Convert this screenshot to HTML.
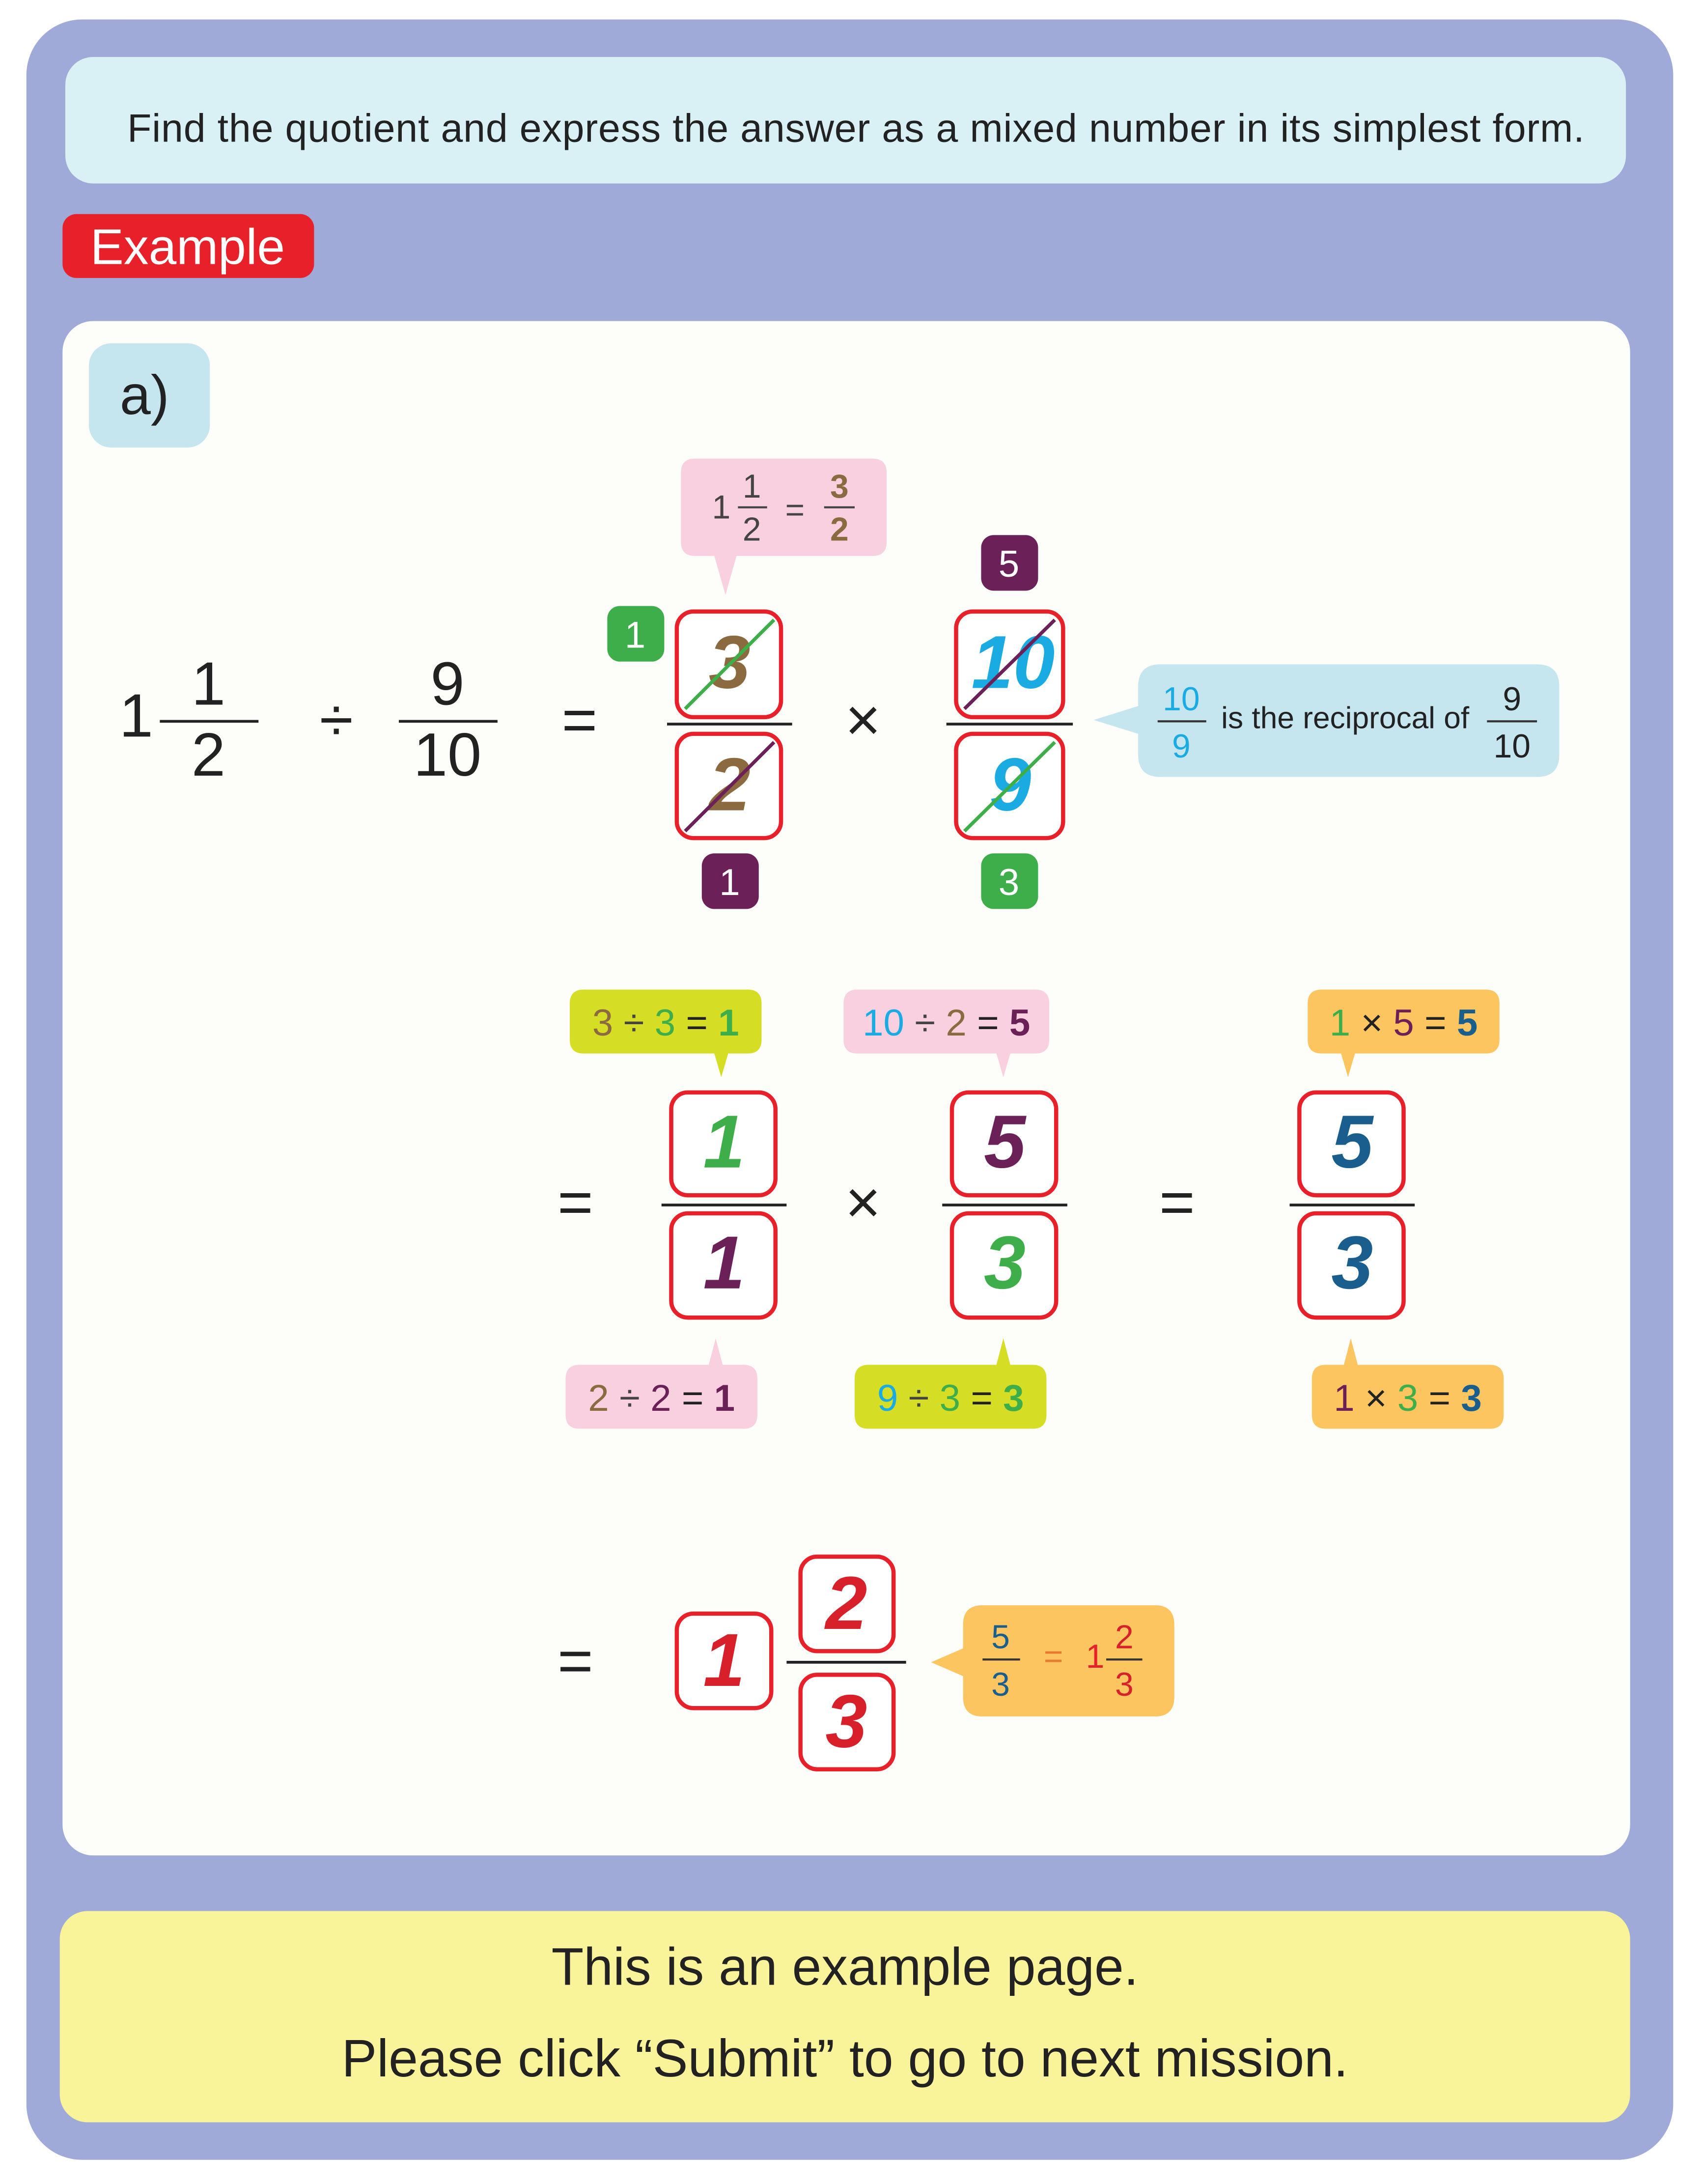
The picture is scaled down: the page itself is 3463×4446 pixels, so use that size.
<!DOCTYPE html>
<html><head><meta charset="utf-8"><style>
html,body{margin:0;padding:0;background:#fff;}
svg{display:block;}
text{font-family:"Liberation Sans",sans-serif;}
.n{font-size:44px;fill:#222;text-anchor:middle;}
.b{font-size:54px;font-style:italic;font-weight:bold;text-anchor:middle;}
.c{font-size:27px;text-anchor:middle;}
.s{font-size:24px;text-anchor:middle;}
.box{fill:#fff;stroke:#E8202A;stroke-width:3;}
</style></head><body>
<svg width="3463" height="4446" viewBox="0 0 1224 1571.4" preserveAspectRatio="none" xmlns="http://www.w3.org/2000/svg">
<rect x="0" y="0" width="1224" height="1572" fill="#fff"/>
<rect x="19" y="14" width="1185" height="1540" rx="40" fill="#9FAAD8"/>
<rect x="47" y="41" width="1123" height="91" rx="20" fill="#D9F0F4"/>
<text x="616" y="102" font-size="28.5" letter-spacing="0.3" text-anchor="middle" fill="#222">Find the quotient and express the answer as a mixed number  in its simplest form.</text>
<rect x="45" y="154" width="181" height="46" rx="10" fill="#E8202A"/>
<text x="135" y="190" font-size="36" text-anchor="middle" fill="#fff">Example</text>
<rect x="45" y="231" width="1128" height="1104" rx="22" fill="#FDFDF9"/>
<rect x="64" y="247" width="87" height="75" rx="16" fill="#C5E6EE"/>
<text x="104" y="298" font-size="40" text-anchor="middle" fill="#222">a)</text>

<text x="98" y="530" class="n">1</text>
<text x="150" y="507" class="n">1</text>
<line x1="115" y1="519" x2="186" y2="519" stroke="#222" stroke-width="2"/>
<text x="150" y="558" class="n">2</text>
<text x="242" y="533" class="n">÷</text>
<text x="322" y="507" class="n">9</text>
<line x1="287" y1="519" x2="358" y2="519" stroke="#222" stroke-width="2"/>
<text x="322" y="558" class="n">10</text>
<text x="417" y="533" class="n">=</text>

<path d="M500 330 H628 Q638 330 638 340 V390 Q638 400 628 400 H530 L522 428 L514 400 H500 Q490 400 490 390 V340 Q490 330 500 330Z" fill="#F9D0E0"/>
<text x="519" y="373" class="s" fill="#444">1</text>
<text x="541" y="358" class="s" fill="#444">1</text>
<line x1="531" y1="365" x2="552" y2="365" stroke="#444" stroke-width="1.5"/>
<text x="541" y="389" class="s" fill="#444">2</text>
<text x="572" y="375" class="s" fill="#444">=</text>
<text x="604" y="358" class="s" fill="#8B6A3F" font-weight="bold">3</text>
<line x1="593" y1="365" x2="615" y2="365" stroke="#444" stroke-width="1.5"/>
<text x="604" y="389" class="s" fill="#8B6A3F" font-weight="bold">2</text>

<rect x="437" y="436" width="41" height="40" rx="9" fill="#3DAE49"/>
<text x="457" y="466" class="c" fill="#fff">1</text>
<rect x="487" y="440" width="75" height="76" rx="12" class="box"/>
<text x="525" y="495" class="b" fill="#8B6A3F">3</text>
<line x1="493" y1="510" x2="557" y2="446" stroke="#3DAE49" stroke-width="2.5"/>
<line x1="480" y1="521" x2="570" y2="521" stroke="#222" stroke-width="2"/>
<rect x="487" y="528" width="75" height="75" rx="12" class="box"/>
<text x="525" y="583" class="b" fill="#8B6A3F">2</text>
<line x1="493" y1="598" x2="557" y2="534" stroke="#6C2058" stroke-width="2.5"/>
<rect x="505" y="614" width="41" height="40" rx="9" fill="#6C2058"/>
<text x="525" y="644" class="c" fill="#fff">1</text>

<text x="621" y="533" class="n">×</text>

<rect x="706" y="385" width="41" height="40" rx="9" fill="#6C2058"/>
<text x="726" y="415" class="c" fill="#fff">5</text>
<rect x="688" y="440" width="77" height="76" rx="12" class="box"/>
<text x="729" y="495" class="b" fill="#1AABE3">10</text>
<line x1="694" y1="510" x2="759" y2="446" stroke="#6C2058" stroke-width="2.5"/>
<line x1="681" y1="521" x2="772" y2="521" stroke="#222" stroke-width="2"/>
<rect x="688" y="528" width="77" height="75" rx="12" class="box"/>
<text x="727" y="583" class="b" fill="#1AABE3">9</text>
<line x1="694" y1="598" x2="759" y2="534" stroke="#3DAE49" stroke-width="2.5"/>
<rect x="706" y="614" width="41" height="40" rx="9" fill="#3DAE49"/>
<text x="726" y="644" class="c" fill="#fff">3</text>

<path d="M835 478 H1106 Q1122 478 1122 494 V543 Q1122 559 1106 559 H835 Q819 559 819 543 V528 L787 518 L819 508 V494 Q819 478 835 478Z" fill="#C5E6EE"/>
<text x="850" y="511" class="s" fill="#1AABE3">10</text>
<line x1="833" y1="519" x2="868" y2="519" stroke="#333" stroke-width="1.5"/>
<text x="850" y="545" class="s" fill="#1AABE3">9</text>
<text x="968" y="524" font-size="22" text-anchor="middle" fill="#222">is the reciprocal of</text>
<text x="1088" y="511" class="s" fill="#222">9</text>
<line x1="1070" y1="519" x2="1106" y2="519" stroke="#333" stroke-width="1.5"/>
<text x="1088" y="545" class="s" fill="#222">10</text>

<path d="M420 712 H538 Q548 712 548 722 V748 Q548 758 538 758 H524 L519 775 L514 758 H420 Q410 758 410 748 V722 Q410 712 420 712Z" fill="#D5DE24"/>
<text x="479" y="745" font-size="27" text-anchor="middle"><tspan fill="#8B6A3F">3</tspan><tspan fill="#444"> ÷ </tspan><tspan fill="#3DAE49">3</tspan><tspan fill="#222"> = </tspan><tspan fill="#3DAE49" font-weight="bold">1</tspan></text>
<path d="M617 712 H745 Q755 712 755 722 V748 Q755 758 745 758 H727 L722 775 L717 758 H617 Q607 758 607 748 V722 Q607 712 617 712Z" fill="#F9D0E0"/>
<text x="681" y="745" font-size="27" text-anchor="middle"><tspan fill="#1AABE3">10</tspan><tspan fill="#444"> ÷ </tspan><tspan fill="#8B6A3F">2</tspan><tspan fill="#222"> = </tspan><tspan fill="#6C2058" font-weight="bold">5</tspan></text>
<path d="M951 712 H1069 Q1079 712 1079 722 V748 Q1079 758 1069 758 H975 L970 775 L965 758 H951 Q941 758 941 748 V722 Q941 712 951 712Z" fill="#FCC55F"/>
<text x="1010" y="745" font-size="27" text-anchor="middle"><tspan fill="#3DAE49">1</tspan><tspan fill="#222"> × </tspan><tspan fill="#6C2058">5</tspan><tspan fill="#222"> = </tspan><tspan fill="#1A5E8E" font-weight="bold">5</tspan></text>

<text x="414" y="880" class="n">=</text>
<rect x="483" y="786" width="75" height="74" rx="12" class="box"/>
<text x="521" y="840" class="b" fill="#3DAE49">1</text>
<line x1="476" y1="867" x2="566" y2="867" stroke="#222" stroke-width="2"/>
<rect x="483" y="873" width="75" height="75" rx="12" class="box"/>
<text x="521" y="927" class="b" fill="#6C2058">1</text>
<text x="621" y="880" class="n">×</text>
<rect x="685" y="786" width="75" height="74" rx="12" class="box"/>
<text x="723" y="840" class="b" fill="#6C2058">5</text>
<line x1="678" y1="867" x2="768" y2="867" stroke="#222" stroke-width="2"/>
<rect x="685" y="873" width="75" height="75" rx="12" class="box"/>
<text x="723" y="927" class="b" fill="#3DAE49">3</text>
<text x="847" y="880" class="n">=</text>
<rect x="935" y="786" width="75" height="74" rx="12" class="box"/>
<text x="973" y="840" class="b" fill="#1A5E8E">5</text>
<line x1="928" y1="867" x2="1018" y2="867" stroke="#222" stroke-width="2"/>
<rect x="935" y="873" width="75" height="75" rx="12" class="box"/>
<text x="973" y="927" class="b" fill="#1A5E8E">3</text>

<path d="M417 982 H510 L515 963 L520 982 H535 Q545 982 545 992 V1018 Q545 1028 535 1028 H417 Q407 1028 407 1018 V992 Q407 982 417 982Z" fill="#F9D0E0"/>
<text x="476" y="1015" font-size="27" text-anchor="middle"><tspan fill="#8B6A3F">2</tspan><tspan fill="#444"> ÷ </tspan><tspan fill="#6C2058">2</tspan><tspan fill="#222"> = </tspan><tspan fill="#6C2058" font-weight="bold">1</tspan></text>
<path d="M625 982 H717 L722 963 L727 982 H743 Q753 982 753 992 V1018 Q753 1028 743 1028 H625 Q615 1028 615 1018 V992 Q615 982 625 982Z" fill="#D5DE24"/>
<text x="684" y="1015" font-size="27" text-anchor="middle"><tspan fill="#1AABE3">9</tspan><tspan fill="#444"> ÷ </tspan><tspan fill="#3DAE49">3</tspan><tspan fill="#222"> = </tspan><tspan fill="#3DAE49" font-weight="bold">3</tspan></text>
<path d="M954 982 H967 L972 963 L977 982 H1072 Q1082 982 1082 992 V1018 Q1082 1028 1072 1028 H954 Q944 1028 944 1018 V992 Q944 982 954 982Z" fill="#FCC55F"/>
<text x="1013" y="1015" font-size="27" text-anchor="middle"><tspan fill="#6C2058">1</tspan><tspan fill="#222"> × </tspan><tspan fill="#3DAE49">3</tspan><tspan fill="#222"> = </tspan><tspan fill="#1A5E8E" font-weight="bold">3</tspan></text>

<text x="414" y="1210" class="n">=</text>
<rect x="487" y="1161" width="68" height="68" rx="12" class="box"/>
<text x="521" y="1213" class="b" fill="#D7202A">1</text>
<rect x="576" y="1120" width="67" height="68" rx="12" class="box"/>
<text x="609" y="1172" class="b" fill="#D7202A">2</text>
<line x1="566" y1="1196" x2="652" y2="1196" stroke="#222" stroke-width="2"/>
<rect x="576" y="1205" width="67" height="68" rx="12" class="box"/>
<text x="609" y="1257" class="b" fill="#D7202A">3</text>
<path d="M707 1155 H831 Q845 1155 845 1169 V1221 Q845 1235 831 1235 H707 Q693 1235 693 1221 V1206 L670 1196 L693 1186 V1169 Q693 1155 707 1155Z" fill="#FCC55F"/>
<text x="720" y="1186" class="s" fill="#1A5E8E">5</text>
<line x1="707" y1="1194" x2="734" y2="1194" stroke="#333" stroke-width="1.5"/>
<text x="720" y="1220" class="s" fill="#1A5E8E">3</text>
<text x="758" y="1200" class="s" fill="#E87A30">=</text>
<text x="788" y="1200" class="s" fill="#E8202A">1</text>
<text x="809" y="1186" class="s" fill="#D7202A">2</text>
<line x1="796" y1="1194" x2="822" y2="1194" stroke="#333" stroke-width="1.5"/>
<text x="809" y="1220" class="s" fill="#D7202A">3</text>

<rect x="43" y="1375" width="1130" height="152" rx="20" fill="#F9F39A"/>
<text x="608" y="1428" font-size="38" text-anchor="middle" fill="#222">This is an example page.</text>
<text x="608" y="1494" font-size="38" text-anchor="middle" fill="#222">Please click “Submit” to go to next mission.</text>
</svg>
</body></html>
